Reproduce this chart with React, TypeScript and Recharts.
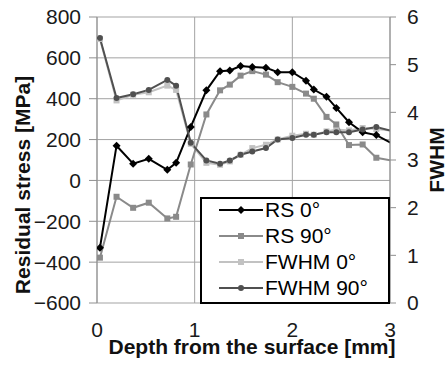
import React from 'react';
import { LineChart, Line, XAxis, YAxis, CartesianGrid, Legend, Label } from 'recharts';

// Depth from the surface [mm]
const depth = [0.03, 0.2, 0.37, 0.53, 0.72, 0.81, 0.96, 1.12, 1.26, 1.36, 1.47, 1.59, 1.73, 1.85, 2.0, 2.14, 2.22, 2.35, 2.45, 2.58, 2.72, 2.86, 3.14];
// Residual stress [MPa]
const rs0 = [-330, 170, 82, 106, 52, 86, 262, 441, 535, 538, 560, 555, 552, 530, 530, 488, 445, 410, 355, 285, 236, 222, 150];
const rs90 = [-378, -80, -134, -109, -186, -178, 78, 323, 441, 469, 513, 535, 518, 481, 458, 425, 400, 311, 274, 173, 176, 111, 87];
// FWHM
const fwhm0 = [5.54, 4.25, 4.37, 4.42, 4.56, 4.47, 3.34, 2.94, 2.9, 2.97, 3.11, 3.25, 3.32, 3.43, 3.51, 3.55, 3.53, 3.6, 3.64, 3.62, 3.67, 3.65, 3.59];
const fwhm90 = [5.56, 4.3, 4.38, 4.47, 4.68, 4.56, 3.36, 2.99, 2.92, 2.99, 3.11, 3.18, 3.25, 3.43, 3.46, 3.53, 3.53, 3.58, 3.58, 3.58, 3.64, 3.69, 3.55];

const xTicks = [0, 1, 2, 3];
const leftTicks = [-600, -400, -200, 0, 200, 400, 600, 800];
const rightTicks = [0, 1, 2, 3, 4, 5, 6];

const seriesNames = ['RS 0°', 'RS 90°', 'FWHM 0°', 'FWHM 90°'];

const data = depth.map((d, i) => ({ depth: d, rs0: rs0[i], rs90: rs90[i], fwhm0: fwhm0[i], fwhm90: fwhm90[i] }));

const FONT = '"Liberation Sans", Arial, sans-serif';
const C_RS0 = '#000000';
const C_RS90 = '#8a8a8a';
const C_F0 = '#c2c2c2';
const C_F90 = '#505050';
const GRID = '#a3a3a3';

const fmt = (v: number) => String(v).replace('-', '\u2212');

const makeDiamond = (color: string) => (p: any) => {
  const { cx, cy, index } = p;
  if (cx == null || cy == null) return <g key={index} />;
  const s = 4;
  return <path key={index} d={`M${cx},${cy - s}L${cx + s},${cy}L${cx},${cy + s}L${cx - s},${cy}Z`} fill={color} />;
};
const makeSquare = (color: string) => (p: any) => {
  const { cx, cy, index } = p;
  if (cx == null || cy == null) return <g key={index} />;
  return <rect key={index} x={cx - 3} y={cy - 3} width={6} height={6} fill={color} />;
};
const makeCircle = (color: string) => (p: any) => {
  const { cx, cy, index } = p;
  if (cx == null || cy == null) return <g key={index} />;
  return <circle key={index} cx={cx} cy={cy} r={3} fill={color} />;
};

const legendItems = [
  { name: seriesNames[0], color: C_RS0, shape: 'diamond' },
  { name: seriesNames[1], color: C_RS90, shape: 'square' },
  { name: seriesNames[2], color: C_F0, shape: 'square' },
  { name: seriesNames[3], color: C_F90, shape: 'circle' },
];

const LegendBox = () => (
  <div
    style={{
      boxSizing: 'border-box',
      width: 190,
      height: 107,
      border: '2px solid #000',
      background: '#fff',
      position: 'relative',
      fontFamily: FONT,
      fontSize: 21,
      color: '#000',
    }}
  >
    {legendItems.map((it, i) => (
      <div key={i} style={{ position: 'absolute', left: 0, top: -2 + i * 26, height: 26, width: 186, display: 'flex', alignItems: 'center' }}>
        <svg width={44} height={10} style={{ marginLeft: 17, display: 'block' }}>
          <line x1={0} y1={5} x2={44} y2={5} stroke={it.color} strokeWidth={2} />
          {it.shape === 'diamond' && <path d="M22,1L26,5L22,9L18,5Z" fill={it.color} />}
          {it.shape === 'square' && <rect x={19} y={2} width={6} height={6} fill={it.color} />}
          {it.shape === 'circle' && <circle cx={22} cy={5} r={3} fill={it.color} />}
        </svg>
        <span style={{ marginLeft: 2, lineHeight: '26px', whiteSpace: 'nowrap' }}>{it.name}</span>
      </div>
    ))}
  </div>
);

const tickStyle = { fontFamily: FONT, fontSize: 21, fill: '#1a1a1a' };

export default function App() {
  return (
    <div style={{ position: 'absolute', left: 0, top: 0, width: 445, height: 368, background: '#fff' }}>
      <LineChart width={445} height={368} data={data} margin={{ top: 17, right: 0, bottom: 0, left: 0 }}>
        <CartesianGrid yAxisId="left" stroke={GRID} strokeWidth={1} />
        <XAxis
          dataKey="depth"
          type="number"
          domain={[0, 3]}
          ticks={xTicks}
          allowDataOverflow
          height={65}
          axisLine={false}
          tickLine={false}
          tickSize={0}
          tickMargin={19}
          tick={tickStyle}
          interval={0}
        >
          <Label
            content={() => (
              <text x={252} y={354} textAnchor="middle" fontFamily={FONT} fontSize={21} fontWeight="bold" fill="#111">
                Depth from the surface [mm]
              </text>
            )}
          />
        </XAxis>
        <YAxis
          yAxisId="left"
          orientation="left"
          domain={[-600, 800]}
          ticks={leftTicks}
          width={97}
          allowDataOverflow
          tickFormatter={fmt}
          tick={tickStyle}
          tickSize={8}
          tickMargin={8}
          axisLine={{ stroke: '#8f8f8f' }}
          tickLine={{ stroke: '#8f8f8f' }}
          interval={0}
        >
          <Label
            content={() => (
              <text x={30} y={185} transform="rotate(-90 30 185)" textAnchor="middle" fontFamily={FONT} fontSize={21} fontWeight="bold" fill="#111">
                Residual stress [MPa]
              </text>
            )}
          />
        </YAxis>
        <YAxis
          yAxisId="right"
          orientation="right"
          domain={[0, 6]}
          ticks={rightTicks}
          width={55}
          allowDataOverflow
          tick={tickStyle}
          tickSize={6}
          tickMargin={11}
          axisLine={{ stroke: '#8f8f8f' }}
          tickLine={{ stroke: '#8f8f8f' }}
          interval={0}
        >
          <Label
            content={() => (
              <text x={444} y={160} transform="rotate(-90 444 160)" textAnchor="middle" fontFamily={FONT} fontSize={21} fontWeight="bold" fill="#111">
                FWHM
              </text>
            )}
          />
        </YAxis>
        <Line yAxisId="right" dataKey="fwhm0" name={seriesNames[2]} stroke={C_F0} strokeWidth={2} dot={makeSquare(C_F0)} isAnimationActive={false} />
        <Line yAxisId="left" dataKey="rs90" name={seriesNames[1]} stroke={C_RS90} strokeWidth={2} dot={makeSquare(C_RS90)} isAnimationActive={false} />
        <Line yAxisId="left" dataKey="rs0" name={seriesNames[0]} stroke={C_RS0} strokeWidth={2} dot={makeDiamond(C_RS0)} isAnimationActive={false} />
        <Line yAxisId="right" dataKey="fwhm90" name={seriesNames[3]} stroke={C_F90} strokeWidth={2} dot={makeCircle(C_F90)} isAnimationActive={false} />
        <Legend
          layout="horizontal"
          verticalAlign="middle"
          align="center"
          content={() => <LegendBox />}
          wrapperStyle={{ position: 'absolute', left: 200, top: 197, width: 190, height: 107, margin: 0, padding: 0 }}
        />
      </LineChart>
    </div>
  );
}
